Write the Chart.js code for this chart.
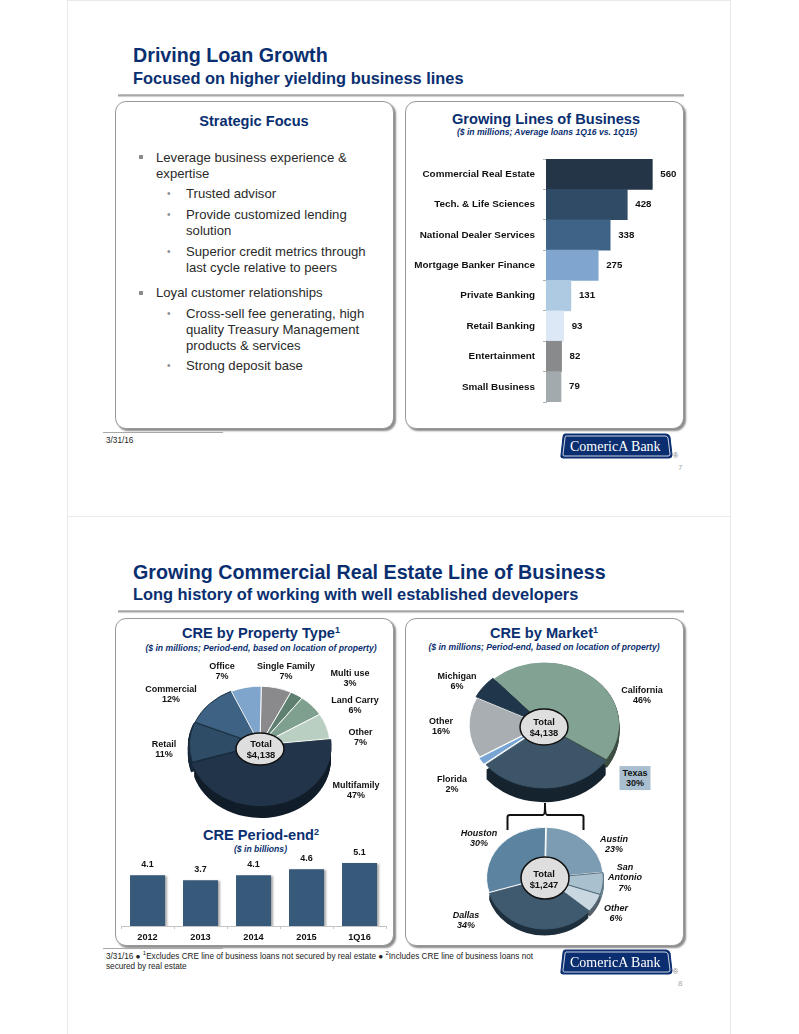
<!DOCTYPE html>
<html>
<head>
<meta charset="utf-8">
<title>Comerica slides</title>
<script src="https://cdn.jsdelivr.net/npm/chart.js@4/dist/chart.umd.min.js"></script>
<style>
  html, body { margin: 0; padding: 0; background: #fff; }
  #page { position: relative; width: 799px; height: 1034px; overflow: hidden; font-family: "Liberation Sans", Arial, sans-serif; color: #222; }
  #page > * { position: absolute; }
  canvas { position: absolute; }
  .slide { left: 67px; width: 664px; border: 1px solid #e9e9e9; box-sizing: border-box; }
  .title { left: 133px; font-weight: bold; color: #0a2f70; white-space: nowrap; }
  .t1 { font-size: 19.7px; }
  .t2 { font-size: 16.4px; }
  .rule { left: 118px; width: 566px; height: 2px; background: linear-gradient(#c8c8c8, #9c9c9c); box-shadow: 0 1px 1px #ccc; }
  .panel { background: #fff; border: 1px solid #999; border-radius: 11px; box-sizing: border-box; box-shadow: 2px 2px 2px #8a8a8a; }
  .head { font-weight: bold; color: #0a2f70; font-size: 14.6px; text-align: center; white-space: nowrap; transform: translateX(-50%); }
  .head sup { font-size: 9px; line-height: 0; vertical-align: 5px; }
  .sub { font-weight: bold; font-style: italic; color: #0a2f70; font-size: 8.6px; text-align: center; white-space: nowrap; transform: translateX(-50%); }
  .txt { font-size: 13.15px; line-height: 16px; white-space: nowrap; color: #2a2a2a; }
  .sq { width: 4px; height: 4px; background: #8c8c8c; }
  .dot { font-size: 10px; color: #8c8c8c; line-height: 16px; }
  .foot { font-size: 8.2px; color: #222; line-height: 10px; }
  .footrule { height: 1px; background: #a8a8a8; left: 103px; width: 120px; }
  .pageno { font-size: 8px; color: #a8a8a8; }
  .plabel { font-weight: bold; font-size: 9px; line-height: 10.4px; color: #111; text-align: center; white-space: nowrap; transform: translate(-50%, -50%); }
  .plabel.it { font-style: italic; }
  .total { font-weight: bold; font-size: 9.4px; line-height: 11px; color: #111; text-align: center; white-space: nowrap; transform: translate(-50%, -50%); }
  .tx { background: #a9bfd0; }
</style>
</head>
<body>
<div id="page">
  <div class="slide" style="top:0;height:517px"></div>
  <div class="slide" style="top:516px;height:530px"></div>

  <div class="title t1" style="top:44px">Driving Loan Growth</div>
  <div class="title t2" style="top:69px">Focused on higher yielding business lines</div>
  <div class="rule" style="top:94px"></div>

  <div class="panel" style="left:115px;top:101px;width:279px;height:328px"></div>
  <div class="panel" style="left:405px;top:101px;width:279px;height:328px"></div>

  <div class="head" style="left:254px;top:113px">Strategic Focus</div>
  <div class="sq" style="left:139px;top:155px"></div>
  <div class="txt" style="left:156px;top:150px">Leverage business experience &amp;<br>expertise</div>
  <div class="dot" style="left:167px;top:186px">•</div>
  <div class="txt" style="left:186px;top:186px">Trusted advisor</div>
  <div class="dot" style="left:167px;top:207px">•</div>
  <div class="txt" style="left:186px;top:207px">Provide customized lending<br>solution</div>
  <div class="dot" style="left:167px;top:244px">•</div>
  <div class="txt" style="left:186px;top:244px">Superior credit metrics through<br>last cycle relative to peers</div>
  <div class="sq" style="left:139px;top:291px"></div>
  <div class="txt" style="left:156px;top:285px">Loyal customer relationships</div>
  <div class="dot" style="left:167px;top:306px">•</div>
  <div class="txt" style="left:186px;top:306px">Cross-sell fee generating, high<br>quality Treasury Management<br>products &amp; services</div>
  <div class="dot" style="left:167px;top:358px">•</div>
  <div class="txt" style="left:186px;top:358px">Strong deposit base</div>

  <div class="head" style="left:546px;top:111px">Growing Lines of Business</div>
  <div class="sub" style="left:547px;top:127px">($ in millions; Average loans 1Q16 vs. 1Q15)</div>

  <div class="footrule" style="top:432px"></div>
  <div class="foot" style="left:106px;top:436px">3/31/16</div>
  <div class="pageno" style="left:678px;top:463px">7</div>

  <div class="title t1" style="top:561px">Growing Commercial Real Estate Line of Business</div>
  <div class="title t2" style="top:585px">Long history of working with well established developers</div>
  <div class="rule" style="top:610px"></div>

  <div class="panel" style="left:115px;top:618px;width:279px;height:328px"></div>
  <div class="panel" style="left:405px;top:618px;width:279px;height:328px"></div>

  <div class="head" style="left:261px;top:625px">CRE by Property Type<sup>1</sup></div>
  <div class="sub" style="left:261px;top:643px">($ in millions; Period-end, based on location of property)</div>
  <div class="head" style="left:544px;top:625px">CRE by Market<sup>1</sup></div>
  <div class="sub" style="left:544px;top:642px">($ in millions; Period-end, based on location of property)</div>
  <div class="head" style="left:261px;top:827px">CRE Period-end<sup>2</sup></div>
  <div class="sub" style="left:234px;top:844px;transform:none">($ in billions)</div>

  <svg style="left:500px;top:795px" width="90" height="40">
    <path d="M7.5 35 V22 Q7.5 20 10 20 H43 Q45 20 45 10 V8 Q45 20 47 20 H81 Q83.5 20 83.5 22 V35" fill="none" stroke="#111" stroke-width="2"/>
  </svg>

  <div class="footrule" style="top:948px"></div>
  <div class="foot" style="left:106px;top:952px;width:430px">3/31/16 ● <sup style="font-size:6px;line-height:0">1</sup>Excludes CRE line of business loans not secured by real estate ● <sup style="font-size:6px;line-height:0">2</sup>Includes CRE line of business loans not secured by real estate</div>
  <div class="pageno" style="left:678px;top:979px">8</div>

  <canvas id="linesChart" width="290" height="252" style="left:410px;top:155px"></canvas>
  <canvas id="typeChart" width="200" height="200" style="left:160px;top:645px"></canvas>
  <canvas id="marketChart" width="200" height="200" style="left:444px;top:625px"></canvas>
  <canvas id="austinChart" width="160" height="160" style="left:465px;top:798px"></canvas>
  <canvas id="periodChart" width="280" height="110" style="left:114px;top:842px"></canvas>
</div>

<script>
'use strict';
// графики
const lineNames = ["Commercial Real Estate", "Tech. & Life Sciences", "National Dealer Services", "Mortgage Banker Finance", "Private Banking", "Retail Banking", "Entertainment", "Small Business"];
const lineValues = [560, 428, 338, 275, 131, 93, 82, 79];
const lineColors = ["#233547", "#2f4b66", "#3f6386", "#80a6cf", "#aecae3", "#dce8f5", "#888a8c", "#a3aaad"];

const periodYears = ["2012", "2013", "2014", "2015", "1Q16"];
const periodValues = [4.1, 3.7, 4.1, 4.6, 5.1];

const typeNames = ["Single Family", "Multi use", "Land Carry", "Other", "Multifamily", "Retail", "Commercial", "Office"];
const typeValues = [7, 3, 6, 7, 47, 11, 12, 7];
const typeColors = ["#8a8a8c", "#5f7f70", "#7f9f8f", "#b9cfc2", "#22344a", "#2f4c66", "#3d6283", "#7fa5cd"];
const typeDepth = [null, null, null, "#6f7f75", "#121d2a", "#17293b", null, null];
const typeLabelAt = [[286, 671], [350, 677.5], [355, 705], [360.5, 737], [356, 790], [164, 748.5], [171, 694], [222, 671]];

const marketNames = ["California", "Texas", "Florida", "Other", "Michigan"];
const marketValues = [46, 30, 2, 16, 6];
const marketColors = ["#82a393", "#3c5568", "#79a5d4", "#a8aeb2", "#1f364b"];
const marketDepth = ["#3e4e43", "#16242f", null, null, null];
const marketLabelAt = [[642, 694.5], [635, 778], [452, 783.5], [441, 726], [457, 681]];

const austinNames = ["Austin", "San<br>Antonio", "Other", "Dallas", "Houston"];
const austinValues = [23, 7, 6, 34, 30];
const austinColors = ["#7b9cb2", "#a9c0cf", "#c8d7e0", "#3f5a6e", "#5c84a0"];
const austinDepth = [null, "#6f8794", "#55606a", "#1e2f3d", null];
const austinLabelAt = [[614, 844], [625, 878], [616, 912.5], [466, 920], [479, 838]];

const page = document.getElementById("page");

function addLabels(names, values, spots, extra) {
  names.forEach(function(name, i) {
    const el = document.createElement("div");
    el.className = "plabel " + extra + (name === "Texas" ? " tx" : "");
    el.innerHTML = name + "<br>" + values[i] + "%";
    el.style.left = spots[i][0] + "px";
    el.style.top = spots[i][1] + "px";
    if (name === "Texas") {
      el.style.width = "31px";
      el.style.padding = "1.5px 0";
    }
    page.appendChild(el);
  });
}

function addTotal(text, x, y) {
  const el = document.createElement("div");
  el.className = "total";
  el.innerHTML = "Total<br>" + text;
  el.style.left = x + "px";
  el.style.top = y + "px";
  page.appendChild(el);
}

// сплющенный круг с "толщиной" и овалом в центре
const tiltPie = {
  id: "tiltPie",
  beforeDatasetsDraw(chart, args, opts) {
    const ctx = chart.ctx;
    const arcs = chart.getDatasetMeta(0).data;
    const cx = arcs[0].x, cy = arcs[0].y;
    ctx.save();
    ctx.translate(cx, cy);
    ctx.scale(1, opts.squash);
    ctx.translate(-cx, -cy);
    for (let dy = opts.depth; dy >= 1; dy--) {
      arcs.forEach(function(arc, i) {
        if (!opts.shades[i]) return;
        const p = arc.getProps(["startAngle", "endAngle", "outerRadius"]);
        const mid = (p.startAngle + p.endAngle) / 2;
        const ox = Math.cos(mid) * arc.options.offset;
        const oy = Math.sin(mid) * arc.options.offset;
        ctx.fillStyle = opts.shades[i];
        ctx.beginPath();
        ctx.moveTo(cx + ox, cy + oy + dy);
        ctx.arc(cx + ox, cy + oy + dy, p.outerRadius, p.startAngle, p.endAngle);
        ctx.closePath();
        ctx.fill();
      });
    }
  },
  afterDatasetsDraw(chart, args, opts) {
    const ctx = chart.ctx;
    const arc = chart.getDatasetMeta(0).data[0];
    ctx.restore();
    ctx.save();
    ctx.fillStyle = "#dedede";
    ctx.strokeStyle = "#111";
    ctx.lineWidth = 1.5;
    ctx.beginPath();
    ctx.ellipse(arc.x + opts.hole[2], arc.y + opts.hole[3], opts.hole[0], opts.hole[1], 0, 0, Math.PI * 2);
    ctx.fill();
    ctx.stroke();
    ctx.restore();
  }
};

function makePie(id, values, colors, shades, offsets, edges, radius, rotation, squash, depth, hole) {
  return new Chart(document.getElementById(id).getContext("2d"), {
    type: "pie",
    data: {
      datasets: [{
        data: values,
        backgroundColor: colors,
        borderColor: edges,
        borderWidth: 1,
        offset: offsets
      }]
    },
    options: {
      responsive: false,
      animation: false,
      rotation: rotation,
      radius: radius,
      layout: { padding: 0 },
      plugins: {
        legend: { display: false },
        tooltip: { enabled: false },
        tiltPie: { squash: squash, depth: depth, shades: shades, hole: hole }
      }
    },
    plugins: [tiltPie]
  });
}

// подписи значений у столбцов
const barValues = {
  id: "barValues",
  afterDatasetsDraw(chart, args, opts) {
    const ctx = chart.ctx;
    const values = chart.data.datasets[0].data;
    ctx.save();
    ctx.fillStyle = "#111";
    chart.getDatasetMeta(0).data.forEach(function(bar, i) {
      if (opts.side) {
        ctx.font = "bold 9.7px 'Liberation Sans'";
        ctx.textAlign = "left";
        ctx.textBaseline = "middle";
        ctx.fillText(values[i], bar.x + 8, bar.y);
      } else {
        ctx.font = "bold 9px 'Liberation Sans'";
        ctx.textAlign = "center";
        ctx.textBaseline = "bottom";
        ctx.fillText(values[i].toFixed(1), bar.x, bar.y - 6);
      }
    });
    ctx.restore();
  }
};

const barShadow = {
  id: "barShadow",
  beforeDatasetsDraw(chart) {
    chart.ctx.save();
    chart.ctx.shadowColor = "rgba(0,0,0,0.35)";
    chart.ctx.shadowBlur = 2;
    chart.ctx.shadowOffsetX = 2;
    chart.ctx.shadowOffsetY = 1;
  },
  afterDatasetsDraw(chart) {
    chart.ctx.restore();
  }
};

new Chart(document.getElementById("linesChart").getContext("2d"), {
  type: "bar",
  data: {
    labels: lineNames,
    datasets: [{ data: lineValues, backgroundColor: lineColors, barPercentage: 1, categoryPercentage: 1 }]
  },
  options: {
    indexAxis: "y",
    responsive: false,
    animation: false,
    layout: { padding: { top: 4, bottom: 5 } },
    scales: {
      x: { display: false, min: 0, max: 811 },
      y: {
        afterFit(scale) {
          scale.width = 136;
          scale.paddingTop = 0;
          scale.paddingBottom = 0;
        },
        border: { color: "#c4c4c4" },
        grid: { drawOnChartArea: false, tickLength: 3, color: "#b0b0b0", offset: true },
        ticks: { font: { family: "Liberation Sans", weight: "bold", size: 9.9 }, color: "#111", padding: 8, autoSkip: false }
      }
    },
    plugins: {
      legend: { display: false },
      tooltip: { enabled: false },
      barValues: { side: true }
    }
  },
  plugins: [barValues]
});

new Chart(document.getElementById("periodChart").getContext("2d"), {
  type: "bar",
  data: {
    labels: periodYears,
    datasets: [{ data: periodValues, backgroundColor: "#37597a", barPercentage: 0.66, categoryPercentage: 1 }]
  },
  options: {
    responsive: false,
    animation: false,
    layout: { padding: { left: 7, right: 8 } },
    scales: {
      y: { display: false, min: 0, max: 6.8 },
      x: {
        afterFit(scale) { scale.height = 26; },
        border: { color: "#c4c4c4" },
        grid: { drawOnChartArea: false, tickLength: 3, color: "#c4c4c4" },
        ticks: { font: { family: "Liberation Sans", weight: "bold", size: 9.2 }, color: "#111", padding: 3 }
      }
    },
    plugins: {
      legend: { display: false },
      tooltip: { enabled: false },
      barValues: { side: false }
    }
  },
  plugins: [barShadow, barValues]
});

makePie("typeChart", typeValues, typeColors, typeDepth,
  [0, 0, 0, 0, 5, 2, 1, 0],
  ["#fff", "#fff", "#fff", "#fff", "#22344a", "#16293b", "#16293b", "#fff"],
  70, 1, 0.84, 12, [24, 16, 0, 4]);

makePie("marketChart", marketValues, marketColors, marketDepth,
  [2, 7, 5, 3, 5],
  ["#82a393", "#3c5568", "#fff", "#fff", "#1f364b"],
  74, -42, 0.83, 12, [24, 18, 0, 2]);

makePie("austinChart", austinValues, austinColors, austinDepth,
  [2, 1, 1, 2, 2],
  ["#fff", "#556a7a", "#556a7a", "#3f5a6e", "#fff"],
  58, 1, 0.87, 6, [24, 21, 0, 0]);

addLabels(typeNames, typeValues, typeLabelAt, "");
addLabels(marketNames, marketValues, marketLabelAt, "");
addLabels(austinNames, austinValues, austinLabelAt, "it");
addTotal("$4,138", 261, 749);
addTotal("$4,138", 544, 727);
addTotal("$1,247", 544, 879);

// логотипы
[433, 949].forEach(function(top) {
  const el = document.createElement("div");
  el.style.left = "560px";
  el.style.top = top + "px";
  el.innerHTML = '<svg width="122" height="28">' +
    '<path d="M5 1 H106 Q109 1 110 4 L112 22 Q112 25 109 25 H3 Q0 25 1 22 L3 4 Q3 1 5 1 Z" fill="#0b2e70" stroke="#0b2e70"/>' +
    '<path d="M6 3 H105 Q107 3 108 5 L110 21 Q110 23 108 23 H4 Q3 23 3 21 L5 5 Q5 3 6 3 Z" fill="none" stroke="#fff" stroke-width="0.8"/>' +
    '<text x="10" y="18" fill="#fff" font-family="Liberation Serif" font-size="14">ComericA Bank</text>' +
    '<text x="113" y="25" fill="#777" font-family="Liberation Sans" font-size="7">®</text></svg>';
  page.appendChild(el);
});
</script>
</body>
</html>
